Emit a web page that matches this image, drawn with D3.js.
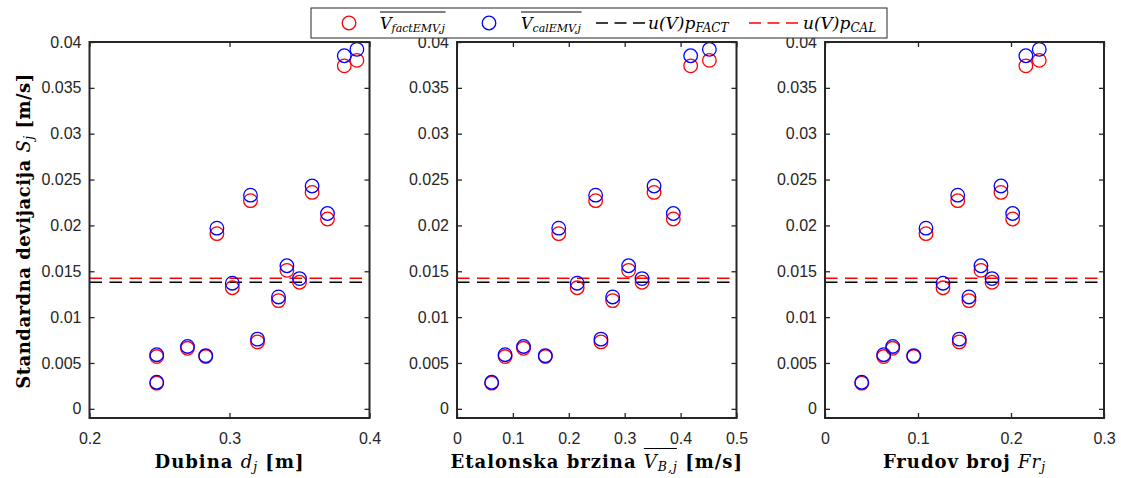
<!DOCTYPE html>
<html><head><meta charset="utf-8">
<script src="https://cdn.jsdelivr.net/npm/d3@7"></script>
<style>body{margin:0;background:#fff}svg{display:block}</style>
</head><body>
<svg id="c" width="1121" height="478"></svg>
<script>
// ---- data ----
const dubina = [0.248, 0.248, 0.270, 0.283, 0.291, 0.302, 0.315, 0.320, 0.335, 0.341, 0.350, 0.359, 0.370, 0.382, 0.391];
const brzina = [0.086, 0.062, 0.119, 0.158, 0.182, 0.215, 0.248, 0.2575, 0.2785, 0.307, 0.331, 0.3525, 0.387, 0.418, 0.4515];
const froude = [0.0631, 0.0395, 0.0728, 0.0954, 0.1086, 0.1269, 0.1427, 0.1444, 0.1548, 0.1677, 0.1796, 0.1892, 0.2018, 0.216, 0.2304];
const sFact = [0.0057, 0.0028, 0.0066, 0.0057, 0.0191, 0.0132, 0.0227, 0.0073, 0.0118, 0.0151, 0.0138, 0.0236, 0.0207, 0.0374, 0.0380];
const sCal  = [0.0059, 0.0029, 0.0068, 0.0058, 0.0197, 0.0137, 0.0233, 0.0076, 0.0122, 0.0156, 0.0142, 0.0243, 0.0213, 0.0385, 0.0392];
const uFact = 0.0138;
const uCal = 0.01424;
const yTicks = [0, 0.005, 0.01, 0.015, 0.02, 0.025, 0.03, 0.035, 0.04];
const yTickLabels = ["0", "0.005", "0.01", "0.015", "0.02", "0.025", "0.03", "0.035", "0.04"];
const xTicks1 = [0.2, 0.3, 0.4];
const xTickLabels1 = ["0.2", "0.3", "0.4"];
const xTicks2 = [0, 0.1, 0.2, 0.3, 0.4, 0.5];
const xTickLabels2 = ["0", "0.1", "0.2", "0.3", "0.4", "0.5"];
const xTicks3 = [0, 0.1, 0.2, 0.3];
const xTickLabels3 = ["0", "0.1", "0.2", "0.3"];

// ---- layout ----
const svg = d3.select('#c');
svg.append('rect').attr('width', 1121).attr('height', 478).attr('fill', '#fff');
const T = 42, B = 418;
const FRAME = '#262626';
const SANS = '"Liberation Sans", Arial, Helvetica, sans-serif';
const SERIF = '"DejaVu Serif", serif';
const R = 6.8, SW = 1.3;
const DASH = '12.5,7.5';

const y = d3.scaleLinear().domain([-0.001, 0.04]).range([B, T]);

const panels = [
  {x0: 89.5, x1: 369.5, dom: [0.2, 0.4], ticks: xTicks1, tl: xTickLabels1, xs: dubina, label: 'd'},
  {x0: 457, x1: 736.5, dom: [0, 0.5], ticks: xTicks2, tl: xTickLabels2, xs: brzina, label: 'v'},
  {x0: 825, x1: 1104, dom: [0, 0.3], ticks: xTicks3, tl: xTickLabels3, xs: froude, label: 'f'}
];

function styleAxis(g) {
  g.select('.domain').remove();
  g.selectAll('.tick line').attr('stroke', FRAME).attr('stroke-width', 1.3);
  g.selectAll('.tick text').attr('fill', FRAME).style('font-family', SANS).style('font-size', '16px');
}

function extent(tspans) {
  try {
    let x0 = Infinity, x1 = -Infinity;
    tspans.forEach(t => { const b = t.node().getBBox(); x0 = Math.min(x0, b.x); x1 = Math.max(x1, b.x + b.width); });
    return [x0, x1];
  } catch (e) { return null; }
}

const LAB_FS = '18px', LAB_LS = '1px', SUB_FS = '12.5px';
const LAB_Y = 468;

panels.forEach((p) => {
  const x = d3.scaleLinear().domain(p.dom).range([p.x0, p.x1]);
  const g = svg.append('g');

  // dashed reference lines
  g.append('line').attr('x1', p.x0).attr('x2', p.x1).attr('y1', y(uFact)).attr('y2', y(uFact))
    .attr('stroke', '#000').attr('stroke-width', 1.5).attr('stroke-dasharray', DASH);
  g.append('line').attr('x1', p.x0).attr('x2', p.x1).attr('y1', y(uCal)).attr('y2', y(uCal))
    .attr('stroke', '#ff0000').attr('stroke-width', 1.5).attr('stroke-dasharray', DASH);

  // markers
  g.selectAll('circle.f').data(p.xs).join('circle').attr('class', 'f')
    .attr('cx', d => x(d)).attr('cy', (d, i) => y(sFact[i])).attr('r', R)
    .attr('fill', 'none').attr('stroke', '#ff0000').attr('stroke-width', SW);
  g.selectAll('circle.c').data(p.xs).join('circle').attr('class', 'c')
    .attr('cx', d => x(d)).attr('cy', (d, i) => y(sCal[i])).attr('r', R)
    .attr('fill', 'none').attr('stroke', '#0000ff').attr('stroke-width', SW);

  // axes
  g.append('g').attr('transform', `translate(${p.x0},0)`)
    .call(d3.axisLeft(y).tickValues(yTicks).tickFormat((d, i) => yTickLabels[i]).tickSizeInner(-5).tickSizeOuter(0).tickPadding(8))
    .call(styleAxis);
  g.append('g').attr('transform', `translate(${p.x1},0)`)
    .call(d3.axisRight(y).tickValues(yTicks).tickFormat('').tickSizeInner(-5).tickSizeOuter(0))
    .call(styleAxis);
  g.append('g').attr('transform', `translate(0,${B})`)
    .call(d3.axisBottom(x).tickValues(p.ticks).tickFormat((d, i) => p.tl[i]).tickSizeInner(-5).tickSizeOuter(0).tickPadding(14.5))
    .call(styleAxis);
  g.append('g').attr('transform', `translate(0,${T})`)
    .call(d3.axisTop(x).tickValues(p.ticks).tickFormat('').tickSizeInner(-5).tickSizeOuter(0))
    .call(styleAxis);

  g.append('rect').attr('x', p.x0).attr('y', T).attr('width', p.x1 - p.x0).attr('height', B - T)
    .attr('fill', 'none').attr('stroke', FRAME).attr('stroke-width', 2);

  // x label
  const cx = (p.x0 + p.x1) / 2;
  const t = svg.append('text').attr('x', cx).attr('y', LAB_Y).attr('text-anchor', 'middle')
    .style('font-family', SERIF).style('font-size', LAB_FS).style('letter-spacing', LAB_LS).attr('fill', '#000');
  if (p.label === 'd') {
    t.append('tspan').style('font-weight', 'bold').text('Dubina ');
    t.append('tspan').style('font-style', 'italic').text('d');
    t.append('tspan').style('font-style', 'italic').style('font-size', SUB_FS).attr('dy', 3).text('j');
    t.append('tspan').style('font-weight', 'bold').attr('dy', -3).text(' [m]');
  } else if (p.label === 'v') {
    t.append('tspan').style('font-weight', 'bold').text('Etalonska brzina ');
    const a = t.append('tspan').style('font-style', 'italic').text('V');
    const b = t.append('tspan').style('font-style', 'italic').style('font-size', SUB_FS).attr('dy', 3).text('B,j');
    t.append('tspan').style('font-weight', 'bold').attr('dy', -3).text(' [m/s]');
    const ext = extent([a, b]);
    if (ext) svg.append('line').attr('x1', ext[0]).attr('x2', ext[1] - 1).attr('y1', 448.5).attr('y2', 448.5)
      .attr('stroke', '#000').attr('stroke-width', 1);
  } else {
    t.append('tspan').style('font-weight', 'bold').text('Frudov broj ');
    t.append('tspan').style('font-style', 'italic').text('Fr');
    t.append('tspan').style('font-style', 'italic').style('font-size', SUB_FS).attr('dy', 3).text('j');
  }
});

// y label
const yl = svg.append('text').attr('transform', 'translate(30,231) rotate(-90)').attr('text-anchor', 'middle')
  .style('font-family', SERIF).style('font-size', LAB_FS).style('letter-spacing', '0.5px').attr('fill', '#000');
yl.append('tspan').style('font-weight', 'bold').text('Standardna devijacija ');
yl.append('tspan').style('font-style', 'italic').text('S');
yl.append('tspan').style('font-style', 'italic').style('font-size', SUB_FS).attr('dy', 3).text('j');
yl.append('tspan').style('font-weight', 'bold').attr('dy', -3).text(' [m/s]');

// ---- legend ----
const lg = svg.append('g');
lg.append('rect').attr('x', 311).attr('y', 8).attr('width', 576).attr('height', 30)
  .attr('fill', '#fff').attr('stroke', FRAME).attr('stroke-width', 1);
const LY = 23;
lg.append('circle').attr('cx', 349).attr('cy', LY).attr('r', R).attr('fill', 'none').attr('stroke', '#ff0000').attr('stroke-width', SW);
lg.append('circle').attr('cx', 489).attr('cy', LY).attr('r', R).attr('fill', 'none').attr('stroke', '#0000ff').attr('stroke-width', SW);
lg.append('line').attr('x1', 596).attr('x2', 645).attr('y1', LY).attr('y2', LY).attr('stroke', '#000').attr('stroke-width', 1.5).attr('stroke-dasharray', '12,6.5');
lg.append('line').attr('x1', 749).attr('x2', 800).attr('y1', LY).attr('y2', LY).attr('stroke', '#ff0000').attr('stroke-width', 1.5).attr('stroke-dasharray', '12,6.5');

function legText(x0, main, sub, over, fs, sfs) {
  const t = lg.append('text').attr('x', x0).attr('y', 28.5).style('font-family', SERIF).style('font-size', fs).attr('fill', '#000');
  const a = t.append('tspan').style('font-style', 'italic').text(main);
  const b = t.append('tspan').style('font-style', 'italic').style('font-size', sfs).attr('dy', 3).text(sub);
  if (over) {
    const ext = extent([a, b]);
    if (ext) lg.append('line').attr('x1', ext[0]).attr('x2', ext[1]).attr('y1', 12).attr('y2', 12).attr('stroke', '#000').attr('stroke-width', 1);
  }
}
legText(380, 'V', 'factEMV,j', true, '16px', '11px');
legText(521, 'V', 'calEMV,j', true, '16px', '11px');
legText(648, 'u(V)p', 'FACT', false, '17px', '12px');
legText(803, 'u(V)p', 'CAL', false, '17px', '12px');
</script>
</body></html>
